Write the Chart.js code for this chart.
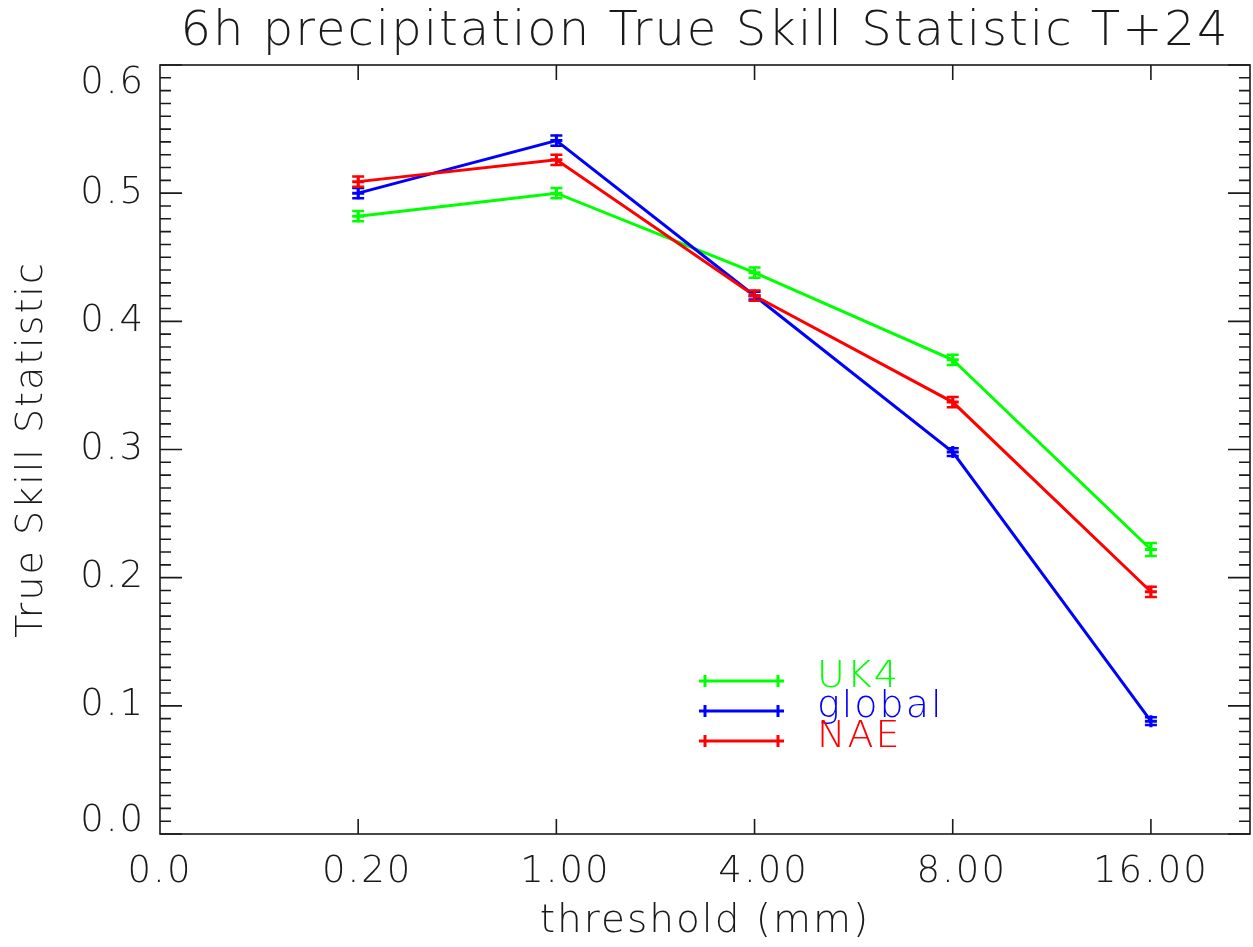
<!DOCTYPE html>
<html>
<head>
<meta charset="utf-8">
<script src="https://cdn.jsdelivr.net/npm/chart.js@4.4.0/dist/chart.umd.min.js"></script>
<style>
  html, body { margin: 0; padding: 0; background: #fff; }
  #c { display: block; }
</style>
</head>
<body>
<canvas id="c" width="1253" height="947"></canvas>
<script>
  'use strict';

  // Threshold categories (x tick labels at positions 0..5)
  var thresholdLabels = ['0.0', '0.20', '1.00', '4.00', '8.00', '16.00'];
  var thresholdPos = [1, 2, 3, 4, 5];

  // True Skill Statistic per model, and error bar half widths
  var uk4Tss = [0.482, 0.500, 0.438, 0.370, 0.222];
  var uk4Err = [0.004, 0.004, 0.004, 0.004, 0.005];
  var globalTss = [0.500, 0.541, 0.420, 0.298, 0.088];
  var globalErr = [0.004, 0.004, 0.003, 0.003, 0.003];
  var naeTss = [0.509, 0.526, 0.420, 0.337, 0.189];
  var naeErr = [0.004, 0.004, 0.004, 0.004, 0.004];

  var yTicks = [0.0, 0.1, 0.2, 0.3, 0.4, 0.5, 0.6];

  var FONT = "'DejaVu Sans', sans-serif";
  var WEIGHT = 200;
  var INK = '#1a1a1a';

  function toPoints(values) {
    return values.map(function (v, i) {
      return { x: thresholdPos[i], y: v };
    });
  }

  function series(label, values, errors, color, order) {
    return {
      label: label,
      data: toPoints(values),
      errors: errors,
      borderColor: color,
      backgroundColor: color,
      borderWidth: 3,
      pointStyle: 'cross',
      pointRadius: 6,
      pointBorderWidth: 3,
      pointHoverRadius: 6,
      tension: 0,
      order: order
    };
  }

  // wide Hershey-like spacing for every text on the canvas
  var spacing = {
    id: 'spacing',
    beforeDraw: function (chart) {
      chart.ctx.letterSpacing = '2px';
    }
  };

  // IDL-like box: axis lines on all sides with inward ticks
  var frame = {
    id: 'frame',
    afterDraw: function (chart) {
      var ctx = chart.ctx;
      var a = chart.chartArea;
      var x = chart.scales.x;
      var y = chart.scales.y;
      ctx.save();
      ctx.strokeStyle = INK;
      ctx.lineWidth = 1.6;
      ctx.strokeRect(a.left, a.top, a.right - a.left, a.bottom - a.top);
      ctx.beginPath();
      thresholdPos.forEach(function (p) {
        var px = x.getPixelForValue(p);
        ctx.moveTo(px, a.bottom);
        ctx.lineTo(px, a.bottom - 15);
        ctx.moveTo(px, a.top);
        ctx.lineTo(px, a.top + 15);
      });
      for (var i = 0; i <= 60; i++) {
        var py = y.getPixelForValue(i / 100);
        var len = i % 10 === 0 ? 22 : 11;
        ctx.moveTo(a.left, py);
        ctx.lineTo(a.left + len, py);
        ctx.moveTo(a.right, py);
        ctx.lineTo(a.right - len, py);
      }
      ctx.stroke();
      ctx.restore();
    }
  };

  // Vertical error bars with caps
  var errorBars = {
    id: 'errorBars',
    afterDatasetsDraw: function (chart) {
      var ctx = chart.ctx;
      var x = chart.scales.x;
      var y = chart.scales.y;
      var sets = chart.data.datasets.slice().sort(function (p, q) { return q.order - p.order; });
      ctx.save();
      ctx.lineWidth = 2.5;
      sets.forEach(function (ds) {
        ctx.strokeStyle = ds.borderColor;
        ctx.beginPath();
        ds.data.forEach(function (pt, i) {
          var px = x.getPixelForValue(pt.x);
          var top = y.getPixelForValue(pt.y + ds.errors[i]);
          var bot = y.getPixelForValue(pt.y - ds.errors[i]);
          ctx.moveTo(px, top);
          ctx.lineTo(px, bot);
          ctx.moveTo(px - 6, top);
          ctx.lineTo(px + 6, top);
          ctx.moveTo(px - 6, bot);
          ctx.lineTo(px + 6, bot);
        });
        ctx.stroke();
      });
      ctx.restore();
    }
  };

  // Legend drawn inside the plot, lower middle
  var innerLegend = {
    id: 'innerLegend',
    afterDraw: function (chart) {
      var ctx = chart.ctx;
      var a = chart.chartArea;
      var x0 = a.left + 540;
      var x1 = a.left + 623;
      var y0 = a.top + 616;
      ctx.save();
      ctx.font = WEIGHT + ' 38px ' + FONT;
      ctx.textBaseline = 'alphabetic';
      ctx.textAlign = 'left';
      chart.data.datasets.forEach(function (ds, i) {
        var ly = y0 + i * 30;
        ctx.strokeStyle = ds.borderColor;
        ctx.lineWidth = 3;
        ctx.beginPath();
        ctx.moveTo(x0, ly);
        ctx.lineTo(x1, ly);
        [x0 + 5, x1 - 5].forEach(function (cx) {
          ctx.moveTo(cx - 6, ly);
          ctx.lineTo(cx + 6, ly);
          ctx.moveTo(cx, ly - 6);
          ctx.lineTo(cx, ly + 6);
        });
        ctx.stroke();
        ctx.fillStyle = ds.borderColor;
        ctx.fillText(ds.label, x1 + 34, ly + 6);
      });
      ctx.restore();
    }
  };

  // IDL keeps the y end labels inside the axis span and pads
  // the narrow x labels with a leading blank (F5.2 format)
  var labelNudge = {
    id: 'labelNudge',
    beforeDraw: function (chart) {
      chart.scales.y.getLabelItems().forEach(function (it) {
        if (it._nudged) return;
        if (it.label === '0.0') it.options.translation[1] -= 13;
        if (it.label === '0.6') it.options.translation[1] += 18;
        it._nudged = true;
      });
      chart.scales.x.getLabelItems().forEach(function (it) {
        if (it._nudged) return;
        if (it.label.length === 4) it.options.translation[0] += 9;
        it._nudged = true;
      });
    }
  };

  new Chart(document.getElementById('c'), {
    type: 'line',
    data: {
      datasets: [
        series('UK4', uk4Tss, uk4Err, '#00ff00', 3),
        series('global', globalTss, globalErr, '#0000ff', 2),
        series('NAE', naeTss, naeErr, '#ff0000', 1)
      ]
    },
    options: {
      responsive: false,
      animation: false,
      devicePixelRatio: 1,
      layout: { autoPadding: false, padding: { left: 0, right: 3, top: 0, bottom: 0 } },
      plugins: {
        legend: { display: false },
        tooltip: { enabled: false },
        title: {
          display: true,
          fullSize: false,
          text: '6h precipitation True Skill Statistic T+24',
          color: INK,
          font: { family: FONT, size: 48, weight: WEIGHT, lineHeight: 1.2 },
          padding: { top: 4, bottom: 3.4 },
          align: 'center'
        }
      },
      scales: {
        x: {
          type: 'linear',
          min: 0,
          max: 5.5,
          grid: { display: false, drawTicks: false },
          border: { display: false },
          afterBuildTicks: function (scale) {
            scale.ticks = thresholdLabels.map(function (t, i) { return { value: i }; });
          },
          afterFit: function (scale) {
            scale.height = 113;
            scale.paddingRight = 0;
          },
          ticks: {
            color: INK,
            padding: 16,
            maxRotation: 0,
            font: { family: FONT, size: 37, weight: WEIGHT },
            callback: function (v) { return thresholdLabels[v]; }
          },
          title: {
            display: true,
            text: 'threshold (mm)',
            color: INK,
            font: { family: FONT, size: 39, weight: WEIGHT },
            padding: { top: 0, bottom: 2 }
          }
        },
        y: {
          min: 0,
          max: 0.6,
          grid: { display: false, drawTicks: false },
          border: { display: false },
          afterBuildTicks: function (scale) {
            scale.ticks = yTicks.map(function (v) { return { value: v }; });
          },
          afterFit: function (scale) { scale.width = 160; },
          ticks: {
            color: INK,
            padding: 15,
            font: { family: FONT, size: 37, weight: WEIGHT },
            callback: function (v) { return v.toFixed(1); }
          },
          title: {
            display: true,
            text: 'True Skill Statistic',
            color: INK,
            font: { family: FONT, size: 38, weight: WEIGHT },
            padding: { top: 9, bottom: 0 }
          }
        }
      }
    },
    plugins: [spacing, labelNudge, errorBars, frame, innerLegend]
  });
</script>
</body>
</html>
